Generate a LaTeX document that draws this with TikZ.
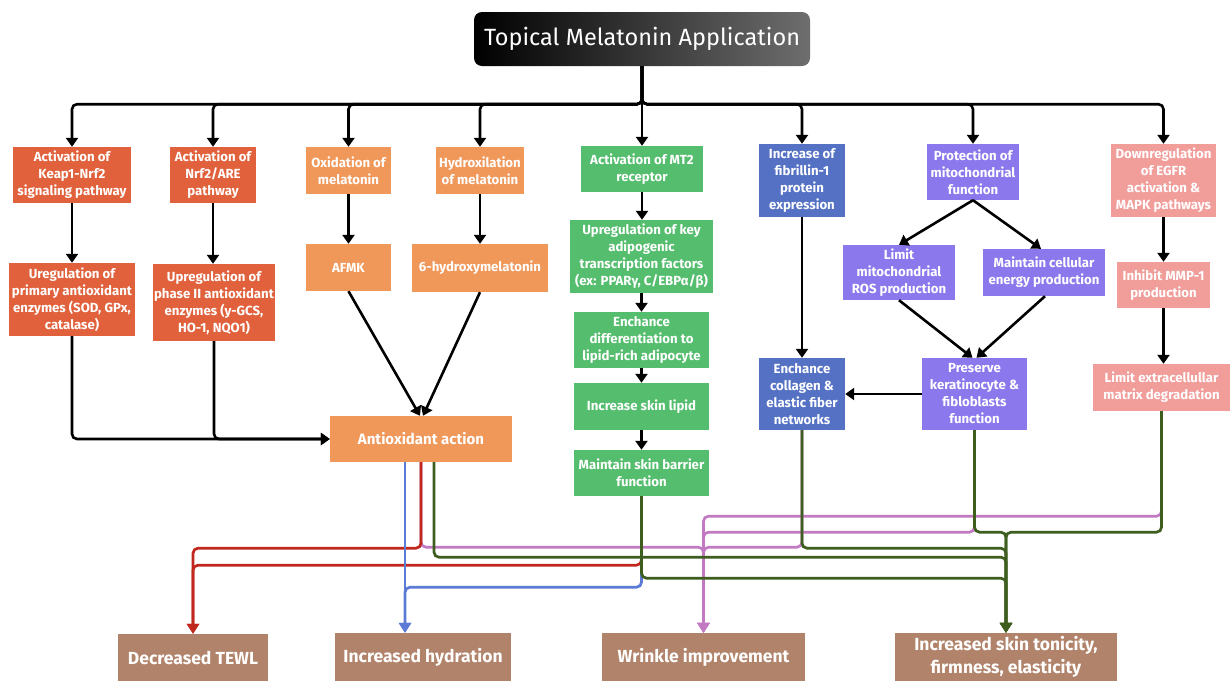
\documentclass[tikz,border=0pt]{standalone}
\usepackage{fontspec}
\setmainfont{Fira Sans}
\usetikzlibrary{arrows.meta,calc}
\definecolor{cRedO}{HTML}{E0613B}
\definecolor{cOrg}{HTML}{F0975A}
\definecolor{cGrn}{HTML}{55BD6E}
\definecolor{cBlu}{HTML}{5471C4}
\definecolor{cPur}{HTML}{8B78EC}
\definecolor{cPnk}{HTML}{F19D9A}
\definecolor{cBrn}{HTML}{B0836A}
\definecolor{cGray}{HTML}{6E6E6E}
\definecolor{lRed}{HTML}{C0281E}
\definecolor{lBlu}{HTML}{5B7BD5}
\definecolor{lPnk}{HTML}{C27BC3}
\definecolor{lGrn}{HTML}{3D5E1E}
\begin{document}
\begin{tikzpicture}[x=1pt,y=-1pt,
  box/.style={draw=none, align=center, text=white, inner sep=1pt,
    font=\bfseries\fontsize{13.2}{17}\selectfont},
  outbox/.style={draw=none, align=center, text=white, inner sep=2pt, fill=cBrn,
    font=\bfseries\fontsize{17.5}{23}\selectfont},
  blk/.style={line width=2.6pt, rounded corners=5pt, -{Triangle[width=12pt,length=9pt]}},
  col/.style={line width=2.7pt, rounded corners=5pt, -{Triangle[width=12pt,length=10pt]}},
]
\useasboundingbox (0,0) rectangle (1232,681);
\fill[white] (0,0) rectangle (1232,681);

% title
\node[minimum width=336pt, minimum height=54pt, rounded corners=8pt,
  left color=black, right color=cGray, text=white,
  font=\fontsize{23.5}{27}\selectfont] (title) at (642,39) {Topical Melatonin Application};

% top row
\node[box, fill=cRedO, minimum width=118pt, minimum height=56pt] (keap) at (72,175) {Activation of\\Keap1-Nrf2\\signaling pathway};
\node[box, fill=cRedO, minimum width=86pt, minimum height=56pt] (nrf) at (213,175) {Activation of\\Nrf2/ARE\\pathway};
\node[box, fill=cOrg, minimum width=85pt, minimum height=47pt] (oxid) at (348.5,170.5) {Oxidation of\\melatonin};
\node[box, fill=cOrg, minimum width=88pt, minimum height=47pt] (hydr) at (480,170.5) {Hydroxilation\\of melatonin};
\node[box, fill=cGrn, minimum width=122pt, minimum height=46pt] (mt2) at (642,169) {Activation of MT2\\receptor};
\node[box, fill=cBlu, minimum width=86pt, minimum height=73pt] (fib) at (802,180.5) {Increase of\\fibrillin-1\\protein\\expression};
\node[box, fill=cPur, minimum width=92pt, minimum height=56pt] (mito) at (973,172) {Protection of\\mitochondrial\\function};
\node[box, fill=cPnk, minimum width=105pt, minimum height=73pt] (egfr) at (1163.5,180.5) {Downregulation\\of EGFR\\activation \&\\MAPK pathways};

% second level
\node[box, fill=cRedO, minimum width=126pt, minimum height=73pt] (prim) at (72,299.5) {Uregulation of\\primary antioxidant\\enzymes (SOD, GPx,\\catalase)};
\node[box, fill=cRedO, minimum width=122pt, minimum height=77pt] (phase) at (214,302.5) {Upregulation of\\phase II antioxidant\\enzymes (y-GCS,\\HO-1, NQO1)};
\node[box, fill=cOrg, minimum width=85pt, minimum height=47pt] (afmk) at (348.5,267.5) {AFMK};
\node[box, fill=cOrg, minimum width=136pt, minimum height=48pt] (hyd6) at (480,268) {6-hydroxymelatonin};
\node[box, fill=cGrn, minimum width=143pt, minimum height=73pt] (adipo) at (641.5,256.5) {Upregulation of key\\adipogenic\\transcription factors\\(ex: PPARγ, C/EBPα/β)};
\node[box, fill=cGrn, minimum width=135pt, minimum height=56pt] (diff) at (641.5,340) {Enchance\\differentiation to\\lipid-rich adipocyte};
\node[box, fill=cGrn, minimum width=135pt, minimum height=47pt] (lipid) at (641.5,406.5) {Increase skin lipid};
\node[box, fill=cGrn, minimum width=135pt, minimum height=46pt] (barrier) at (641.5,473) {Maintain skin barrier\\function};
\node[box, fill=cPur, minimum width=112pt, minimum height=55pt] (ros) at (899,272.5) {Limit\\mitochondrial\\ROS production};
\node[box, fill=cPur, minimum width=122pt, minimum height=47pt] (energy) at (1044,272.5) {Maintain cellular\\energy production};
\node[box, fill=cBlu, minimum width=86pt, minimum height=72pt] (coll) at (802,394) {Enchance\\collagen \&\\elastic fiber\\networks};
\node[box, fill=cPur, minimum width=105pt, minimum height=72pt] (pres) at (974.5,394) {Preserve\\keratinocyte \&\\fibloblasts\\function};
\node[box, fill=cPnk, minimum width=93pt, minimum height=46pt] (mmp) at (1163.5,285) {Inhibit MMP-1\\production};
\node[box, fill=cPnk, minimum width=137pt, minimum height=47pt] (ecm) at (1161.5,387.5) {Limit extracellullar\\matrix degradation};
\node[box, fill=cOrg, minimum width=182pt, minimum height=46pt, font=\bfseries\fontsize{15}{18}\selectfont] (antiox) at (421,439) {Antioxidant action};

% outcomes
\node[outbox, minimum width=150pt, minimum height=47pt] (tewl) at (193,657.5) {Decreased TEWL};
\node[outbox, minimum width=176pt, minimum height=48pt] (hydra) at (423,657) {Increased hydration};
\node[outbox, minimum width=203pt, minimum height=48pt] (wrink) at (703.5,657) {Wrinkle improvement};
\node[outbox, minimum width=222pt, minimum height=48pt] (tonic) at (1006,657) {Increased skin tonicity,\\firmness, elasticity};

\coordinate (bx) at (405,0);
\coordinate (gx) at (434,0);

% black connectors
\foreach \n in {keap,nrf,oxid,hydr,fib,mito,egfr}
  \draw[blk] (title.south) -- ++(0,38) -| (\n.north);
\draw[blk] (title.south) -- (mt2.north);
\draw[blk] (keap.south) -- (keap.south |- prim.north);
\draw[blk] (nrf.south) -- (nrf.south |- phase.north);
\draw[blk] (oxid.south) -- (afmk.north);
\draw[blk] (hydr.south) -- (hydr.south |- hyd6.north);
\draw[blk] (mt2.south) -- (mt2.south |- adipo.north);
\draw[blk] (adipo.south) -- (diff.north);
\draw[blk] (diff.south) -- (lipid.north);
\draw[blk] (lipid.south) -- (barrier.north);
\draw[blk] (fib.south) -- (coll.north);
\draw[blk] (mito.south) -- (ros.north);
\draw[blk] (mito.south) -- ([xshift=-3pt]energy.north);
\draw[blk] (ros.south) -- ([xshift=-2pt]pres.north);
\draw[blk] ([xshift=1pt]energy.south) -- ([xshift=2pt]pres.north);
\draw[blk] (pres.west) -- (coll.east);
\draw[blk] (egfr.south) -- (mmp.north);
\draw[blk] (mmp.south) -- (mmp.south |- ecm.north);
\draw[blk] (prim.south) |- (antiox.west);
\draw[blk] (phase.south) |- (antiox.west);
\draw[blk] (afmk.south) -- ([xshift=-1pt]antiox.north);
\draw[blk] (hyd6.south) -- ([xshift=2pt]antiox.north);

% coloured connectors
\draw[col, lBlu] (barrier.south) -- ++(0,91) -| (hydra.north -| bx);
\draw[col, lPnk] (antiox.south) -- ++(0,85) -| (wrink.north);
\draw[col, lPnk] (coll.south) -- ++(0,117) -| (wrink.north);
\draw[col, lPnk] (pres.south) -- ++(0,102) -| (wrink.north);
\draw[col, lPnk] (ecm.south) -- ++(0,105) -| (wrink.north);
\draw[col, lRed] (antiox.south) -- ++(0,86) -| (tewl.north);
\draw[col, lRed] (barrier.south) -- ++(0,69) -| (tewl.north);
\draw[col, lGrn] (antiox.south -| gx) -- ++(0,95) -| (tonic.north);
\draw[col, lGrn] (barrier.south) -- ++(0,82) -| (tonic.north);
\draw[col, lGrn] (coll.south) -- ++(0,118) -| (tonic.north);
\draw[col, lGrn] (pres.south) -- ++(0,102) -| (tonic.north);
\draw[col, lGrn] (ecm.south) -- ++(0,121) -| (tonic.north);
\draw[col, lBlu] (antiox.south -| bx) -- (hydra.north -| bx);
\end{tikzpicture}
\end{document}
